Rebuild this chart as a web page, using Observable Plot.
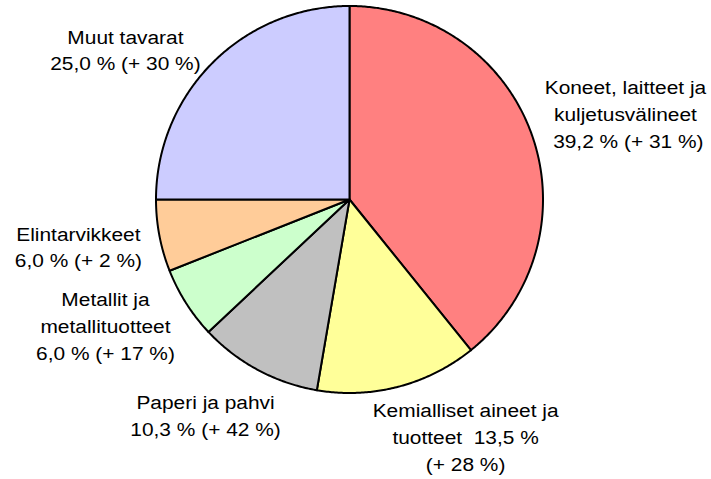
<!DOCTYPE html>
<html>
<head>
<meta charset="utf-8">
<script src="https://cdn.jsdelivr.net/npm/d3@7"></script>
<script src="https://cdn.jsdelivr.net/npm/@observablehq/plot@0.6"></script>
<style>
  html, body { margin: 0; padding: 0; background: #fff; }
  svg { display: block; }
</style>
</head>
<body>
<div id="chart"></div>
<script>
// Categories (clockwise from 12 o'clock)
const categories = ["Koneet, laitteet ja kuljetusvälineet", "Kemialliset aineet ja tuotteet", "Paperi ja pahvi", "Metallit ja metallituotteet", "Elintarvikkeet", "Muut tavarat"];
const shares = [39.2, 13.5, 10.3, 6.0, 6.0, 25.0];
const changes = [31, 28, 42, 17, 2, 30];
const labelTexts = [
  "Koneet, laitteet ja\nkuljetusvälineet\n\u00a039,2 % (+ 31 %)",
  "Kemialliset aineet ja\ntuotteet\u00a0 13,5 %\n(+ 28 %)",
  "Paperi ja pahvi\n10,3 % (+ 42 %)",
  "Metallit ja\nmetallituotteet\n6,0 % (+ 17 %)",
  "Elintarvikkeet\n6,0 % (+ 2 %)",
  "Muut tavarat\n25,0 % (+ 30 %)"
];
const colors = ["#FF8080", "#FFFF99", "#C0C0C0", "#CCFFCC", "#FFCC99", "#CCCCFF"];
// label anchor positions, in pie-radius units relative to the centre
const labelX = [1.426, 0.600, -0.744, -1.261, -1.401, -1.158];
const labelY = [0.450, -1.220, -1.110, -0.646, -0.237, 0.781];

// Build slice polygons from the shares
const total = d3.sum(shares);
const slicePts = [];
let cum = 0;
shares.forEach((v, i) => {
  const a0 = (cum / total) * 2 * Math.PI;
  cum += v;
  const a1 = (cum / total) * 2 * Math.PI;
  const n = Math.max(2, Math.ceil((a1 - a0) / (Math.PI / 360)));
  slicePts.push({k: i, x: 0, y: 0, c: colors[i]});
  for (let j = 0; j <= n; j++) {
    const a = a0 + (a1 - a0) * j / n;
    slicePts.push({k: i, x: Math.sin(a), y: Math.cos(a), c: colors[i]});
  }
  slicePts.push({k: i, x: 0, y: 0, c: colors[i]});
});

const labels = labelTexts.map((t, i) => ({t, x: labelX[i], y: labelY[i]}));

const plot = Plot.plot({
  width: 711,
  height: 479,
  marginLeft: 155.5,
  marginRight: 168.5,
  marginTop: 5.5,
  marginBottom: 86.5,
  x: {domain: [-1, 1], axis: null},
  y: {domain: [-1, 1], axis: null},
  color: {type: "identity"},
  style: {fontFamily: "'Liberation Sans', Arial, sans-serif", background: "#fff", overflow: "visible"},
  marks: [
    Plot.line(slicePts, {x: "x", y: "y", z: "k", fill: "c", stroke: "#000", strokeWidth: 2, strokeLinejoin: "round", curve: "linear"}),
    Plot.text(labels, {x: "x", y: "y", text: "t", fontSize: 19, lineHeight: 1.42, fill: "#000", textAnchor: "middle", lineAnchor: "middle"})
  ]
});
plot.querySelectorAll('g[aria-label="text"] text').forEach(t => {
  t.setAttribute("transform", (t.getAttribute("transform") || "") + " scale(1.1,1)");
});
document.getElementById("chart").appendChild(plot);
</script>
</body>
</html>
